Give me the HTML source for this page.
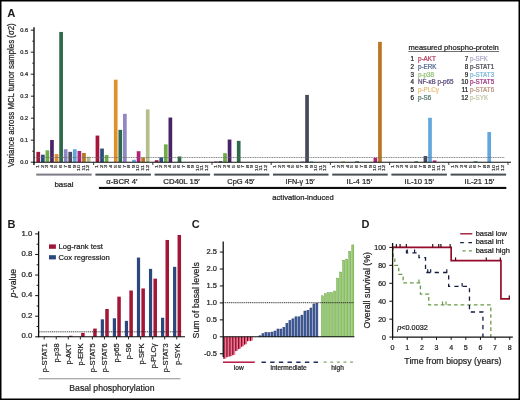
<!DOCTYPE html><html><head><meta charset="utf-8"><style>html,body{margin:0;padding:0;background:#fff;}svg{display:block}text{font-family:"Liberation Sans", sans-serif;}</style></head><body>
<svg width="520" height="400" viewBox="0 0 520 400">
<rect x="0" y="0" width="520" height="400" fill="#fff"/>
<defs><filter id="bl" x="-2%" y="-2%" width="104%" height="104%"><feGaussianBlur stdDeviation="0.4"/></filter></defs><g filter="url(#bl)">
<text transform="translate(14.40,95.30) rotate(-90)" font-size="8.2" text-anchor="middle" textLength="144" lengthAdjust="spacingAndGlyphs" fill="#1e1e1e" stroke="#1e1e1e" stroke-width="0.22">Variance across MCL tumor samples (σ2)</text>
<text x="7.30" y="16.90" font-size="11.3" text-anchor="start" fill="#1e1e1e" font-weight="bold" fill="#111">A</text>
<line x1="30.8" y1="162.20" x2="34.0" y2="162.20" stroke="#111" stroke-width="0.9"/>
<text x="28.00" y="164.10" font-size="5.6" text-anchor="end" fill="#222" stroke="#222" stroke-width="0.22">0.0</text>
<line x1="30.8" y1="140.20" x2="34.0" y2="140.20" stroke="#111" stroke-width="0.9"/>
<text x="28.00" y="142.10" font-size="5.6" text-anchor="end" fill="#222" stroke="#222" stroke-width="0.22">0.1</text>
<line x1="30.8" y1="118.20" x2="34.0" y2="118.20" stroke="#111" stroke-width="0.9"/>
<text x="28.00" y="120.10" font-size="5.6" text-anchor="end" fill="#222" stroke="#222" stroke-width="0.22">0.2</text>
<line x1="30.8" y1="96.20" x2="34.0" y2="96.20" stroke="#111" stroke-width="0.9"/>
<text x="28.00" y="98.10" font-size="5.6" text-anchor="end" fill="#222" stroke="#222" stroke-width="0.22">0.3</text>
<line x1="30.8" y1="74.20" x2="34.0" y2="74.20" stroke="#111" stroke-width="0.9"/>
<text x="28.00" y="76.10" font-size="5.6" text-anchor="end" fill="#222" stroke="#222" stroke-width="0.22">0.4</text>
<line x1="30.8" y1="52.20" x2="34.0" y2="52.20" stroke="#111" stroke-width="0.9"/>
<text x="28.00" y="54.10" font-size="5.6" text-anchor="end" fill="#222" stroke="#222" stroke-width="0.22">0.5</text>
<line x1="30.8" y1="30.20" x2="34.0" y2="30.20" stroke="#111" stroke-width="0.9"/>
<text x="28.00" y="32.10" font-size="5.6" text-anchor="end" fill="#222" stroke="#222" stroke-width="0.22">0.6</text>
<line x1="32.2" y1="151.20" x2="34.0" y2="151.20" stroke="#111" stroke-width="0.8"/>
<line x1="32.2" y1="129.20" x2="34.0" y2="129.20" stroke="#111" stroke-width="0.8"/>
<line x1="32.2" y1="107.20" x2="34.0" y2="107.20" stroke="#111" stroke-width="0.8"/>
<line x1="32.2" y1="85.20" x2="34.0" y2="85.20" stroke="#111" stroke-width="0.8"/>
<line x1="32.2" y1="63.20" x2="34.0" y2="63.20" stroke="#111" stroke-width="0.8"/>
<line x1="32.2" y1="41.20" x2="34.0" y2="41.20" stroke="#111" stroke-width="0.8"/>
<rect x="36.40" y="151.86" width="3.7" height="10.34" fill="#a5153d"/>
<rect x="40.97" y="154.72" width="3.7" height="7.48" fill="#2c4d80"/>
<rect x="45.54" y="150.32" width="3.7" height="11.88" fill="#6fae45"/>
<rect x="50.11" y="139.98" width="3.7" height="22.22" fill="#4a2468"/>
<rect x="54.68" y="154.06" width="3.7" height="8.14" fill="#e0902c"/>
<rect x="59.25" y="31.96" width="3.7" height="130.24" fill="#2e6a4a"/>
<rect x="63.82" y="149.22" width="3.7" height="12.98" fill="#9088c4"/>
<rect x="68.39" y="151.86" width="3.7" height="10.34" fill="#454b5a"/>
<rect x="72.96" y="149.22" width="3.7" height="12.98" fill="#62a6dc"/>
<rect x="77.53" y="150.98" width="3.7" height="11.22" fill="#b0207a"/>
<rect x="82.10" y="152.96" width="3.7" height="9.24" fill="#bc7424"/>
<rect x="86.67" y="156.70" width="3.7" height="5.50" fill="#b4be8e"/>
<rect x="95.60" y="135.58" width="3.7" height="26.62" fill="#a5153d"/>
<rect x="100.17" y="148.56" width="3.7" height="13.64" fill="#2c4d80"/>
<rect x="104.74" y="154.94" width="3.7" height="7.26" fill="#6fae45"/>
<rect x="113.88" y="79.70" width="3.7" height="82.50" fill="#e0902c"/>
<rect x="118.45" y="129.86" width="3.7" height="32.34" fill="#2e6a4a"/>
<rect x="123.02" y="113.80" width="3.7" height="48.40" fill="#9088c4"/>
<rect x="132.16" y="159.78" width="3.7" height="2.42" fill="#62a6dc"/>
<rect x="136.73" y="151.20" width="3.7" height="11.00" fill="#b0207a"/>
<rect x="141.30" y="157.58" width="3.7" height="4.62" fill="#bc7424"/>
<rect x="145.87" y="109.40" width="3.7" height="52.80" fill="#b4be8e"/>
<rect x="154.80" y="160.22" width="3.7" height="1.98" fill="#a5153d"/>
<rect x="159.37" y="157.36" width="3.7" height="4.84" fill="#2c4d80"/>
<rect x="163.94" y="144.38" width="3.7" height="17.82" fill="#6fae45"/>
<rect x="168.51" y="117.54" width="3.7" height="44.66" fill="#4a2468"/>
<rect x="177.65" y="156.48" width="3.7" height="5.72" fill="#2e6a4a"/>
<rect x="214.00" y="161.54" width="3.7" height="0.66" fill="#a5153d"/>
<rect x="218.57" y="161.10" width="3.7" height="1.10" fill="#2c4d80"/>
<rect x="223.14" y="153.18" width="3.7" height="9.02" fill="#6fae45"/>
<rect x="227.71" y="139.54" width="3.7" height="22.66" fill="#4a2468"/>
<rect x="236.85" y="140.86" width="3.7" height="21.34" fill="#2e6a4a"/>
<rect x="300.62" y="161.32" width="3.7" height="0.88" fill="#9088c4"/>
<rect x="305.19" y="94.88" width="3.7" height="67.32" fill="#454b5a"/>
<rect x="309.76" y="161.32" width="3.7" height="0.88" fill="#62a6dc"/>
<rect x="341.54" y="161.54" width="3.7" height="0.66" fill="#6fae45"/>
<rect x="355.25" y="161.32" width="3.7" height="0.88" fill="#2e6a4a"/>
<rect x="373.53" y="157.80" width="3.7" height="4.40" fill="#b0207a"/>
<rect x="378.10" y="41.86" width="3.7" height="120.34" fill="#bc7424"/>
<rect x="414.45" y="161.32" width="3.7" height="0.88" fill="#2e6a4a"/>
<rect x="423.59" y="156.04" width="3.7" height="6.16" fill="#454b5a"/>
<rect x="428.16" y="117.76" width="3.7" height="44.44" fill="#62a6dc"/>
<rect x="432.73" y="160.44" width="3.7" height="1.76" fill="#b0207a"/>
<rect x="473.65" y="161.32" width="3.7" height="0.88" fill="#2e6a4a"/>
<rect x="487.36" y="132.06" width="3.7" height="30.14" fill="#62a6dc"/>
<line x1="34.0" y1="157.5" x2="504.5" y2="157.5" stroke="#6a6a6a" stroke-width="0.8" stroke-dasharray="1.1,0.6"/>
<line x1="34.0" y1="27.2" x2="34.0" y2="165" stroke="#111" stroke-width="1.4"/>
<line x1="33.3" y1="162.2" x2="511" y2="162.2" stroke="#111" stroke-width="1.1"/>
<line x1="93.60" y1="162.2" x2="93.60" y2="165" stroke="#111" stroke-width="0.8"/>
<line x1="152.80" y1="162.2" x2="152.80" y2="165" stroke="#111" stroke-width="0.8"/>
<line x1="212.00" y1="162.2" x2="212.00" y2="165" stroke="#111" stroke-width="0.8"/>
<line x1="271.20" y1="162.2" x2="271.20" y2="165" stroke="#111" stroke-width="0.8"/>
<line x1="330.40" y1="162.2" x2="330.40" y2="165" stroke="#111" stroke-width="0.8"/>
<line x1="389.60" y1="162.2" x2="389.60" y2="165" stroke="#111" stroke-width="0.8"/>
<line x1="448.80" y1="162.2" x2="448.80" y2="165" stroke="#111" stroke-width="0.8"/>
<line x1="508.00" y1="162.2" x2="508.00" y2="165" stroke="#111" stroke-width="0.8"/>
<text transform="translate(39.15,165.0) rotate(-90) scale(1,0.62)" font-size="5.6" text-anchor="end" fill="#3a3a3a" stroke="#3a3a3a" stroke-width="0.3">1</text>
<text transform="translate(43.72,165.0) rotate(-90) scale(1,0.62)" font-size="5.6" text-anchor="end" fill="#3a3a3a" stroke="#3a3a3a" stroke-width="0.3">2</text>
<text transform="translate(48.29,165.0) rotate(-90) scale(1,0.62)" font-size="5.6" text-anchor="end" fill="#3a3a3a" stroke="#3a3a3a" stroke-width="0.3">3</text>
<text transform="translate(52.86,165.0) rotate(-90) scale(1,0.62)" font-size="5.6" text-anchor="end" fill="#3a3a3a" stroke="#3a3a3a" stroke-width="0.3">4</text>
<text transform="translate(57.43,165.0) rotate(-90) scale(1,0.62)" font-size="5.6" text-anchor="end" fill="#3a3a3a" stroke="#3a3a3a" stroke-width="0.3">5</text>
<text transform="translate(62.00,165.0) rotate(-90) scale(1,0.62)" font-size="5.6" text-anchor="end" fill="#3a3a3a" stroke="#3a3a3a" stroke-width="0.3">6</text>
<text transform="translate(66.57,165.0) rotate(-90) scale(1,0.62)" font-size="5.6" text-anchor="end" fill="#3a3a3a" stroke="#3a3a3a" stroke-width="0.3">7</text>
<text transform="translate(71.14,165.0) rotate(-90) scale(1,0.62)" font-size="5.6" text-anchor="end" fill="#3a3a3a" stroke="#3a3a3a" stroke-width="0.3">8</text>
<text transform="translate(75.71,165.0) rotate(-90) scale(1,0.62)" font-size="5.6" text-anchor="end" fill="#3a3a3a" stroke="#3a3a3a" stroke-width="0.3">9</text>
<text transform="translate(80.28,165.0) rotate(-90) scale(1,0.62)" font-size="5.6" text-anchor="end" fill="#3a3a3a" stroke="#3a3a3a" stroke-width="0.3">10</text>
<text transform="translate(84.85,165.0) rotate(-90) scale(1,0.62)" font-size="5.6" text-anchor="end" fill="#3a3a3a" stroke="#3a3a3a" stroke-width="0.3">11</text>
<text transform="translate(89.42,165.0) rotate(-90) scale(1,0.62)" font-size="5.6" text-anchor="end" fill="#3a3a3a" stroke="#3a3a3a" stroke-width="0.3">12</text>
<text transform="translate(98.35,165.0) rotate(-90) scale(1,0.62)" font-size="5.6" text-anchor="end" fill="#3a3a3a" stroke="#3a3a3a" stroke-width="0.3">1</text>
<text transform="translate(102.92,165.0) rotate(-90) scale(1,0.62)" font-size="5.6" text-anchor="end" fill="#3a3a3a" stroke="#3a3a3a" stroke-width="0.3">2</text>
<text transform="translate(107.49,165.0) rotate(-90) scale(1,0.62)" font-size="5.6" text-anchor="end" fill="#3a3a3a" stroke="#3a3a3a" stroke-width="0.3">3</text>
<text transform="translate(112.06,165.0) rotate(-90) scale(1,0.62)" font-size="5.6" text-anchor="end" fill="#3a3a3a" stroke="#3a3a3a" stroke-width="0.3">4</text>
<text transform="translate(116.63,165.0) rotate(-90) scale(1,0.62)" font-size="5.6" text-anchor="end" fill="#3a3a3a" stroke="#3a3a3a" stroke-width="0.3">5</text>
<text transform="translate(121.20,165.0) rotate(-90) scale(1,0.62)" font-size="5.6" text-anchor="end" fill="#3a3a3a" stroke="#3a3a3a" stroke-width="0.3">6</text>
<text transform="translate(125.77,165.0) rotate(-90) scale(1,0.62)" font-size="5.6" text-anchor="end" fill="#3a3a3a" stroke="#3a3a3a" stroke-width="0.3">7</text>
<text transform="translate(130.34,165.0) rotate(-90) scale(1,0.62)" font-size="5.6" text-anchor="end" fill="#3a3a3a" stroke="#3a3a3a" stroke-width="0.3">8</text>
<text transform="translate(134.91,165.0) rotate(-90) scale(1,0.62)" font-size="5.6" text-anchor="end" fill="#3a3a3a" stroke="#3a3a3a" stroke-width="0.3">9</text>
<text transform="translate(139.48,165.0) rotate(-90) scale(1,0.62)" font-size="5.6" text-anchor="end" fill="#3a3a3a" stroke="#3a3a3a" stroke-width="0.3">10</text>
<text transform="translate(144.05,165.0) rotate(-90) scale(1,0.62)" font-size="5.6" text-anchor="end" fill="#3a3a3a" stroke="#3a3a3a" stroke-width="0.3">11</text>
<text transform="translate(148.62,165.0) rotate(-90) scale(1,0.62)" font-size="5.6" text-anchor="end" fill="#3a3a3a" stroke="#3a3a3a" stroke-width="0.3">12</text>
<text transform="translate(157.55,165.0) rotate(-90) scale(1,0.62)" font-size="5.6" text-anchor="end" fill="#3a3a3a" stroke="#3a3a3a" stroke-width="0.3">1</text>
<text transform="translate(162.12,165.0) rotate(-90) scale(1,0.62)" font-size="5.6" text-anchor="end" fill="#3a3a3a" stroke="#3a3a3a" stroke-width="0.3">2</text>
<text transform="translate(166.69,165.0) rotate(-90) scale(1,0.62)" font-size="5.6" text-anchor="end" fill="#3a3a3a" stroke="#3a3a3a" stroke-width="0.3">3</text>
<text transform="translate(171.26,165.0) rotate(-90) scale(1,0.62)" font-size="5.6" text-anchor="end" fill="#3a3a3a" stroke="#3a3a3a" stroke-width="0.3">4</text>
<text transform="translate(175.83,165.0) rotate(-90) scale(1,0.62)" font-size="5.6" text-anchor="end" fill="#3a3a3a" stroke="#3a3a3a" stroke-width="0.3">5</text>
<text transform="translate(180.40,165.0) rotate(-90) scale(1,0.62)" font-size="5.6" text-anchor="end" fill="#3a3a3a" stroke="#3a3a3a" stroke-width="0.3">6</text>
<text transform="translate(184.97,165.0) rotate(-90) scale(1,0.62)" font-size="5.6" text-anchor="end" fill="#3a3a3a" stroke="#3a3a3a" stroke-width="0.3">7</text>
<text transform="translate(189.54,165.0) rotate(-90) scale(1,0.62)" font-size="5.6" text-anchor="end" fill="#3a3a3a" stroke="#3a3a3a" stroke-width="0.3">8</text>
<text transform="translate(194.11,165.0) rotate(-90) scale(1,0.62)" font-size="5.6" text-anchor="end" fill="#3a3a3a" stroke="#3a3a3a" stroke-width="0.3">9</text>
<text transform="translate(198.68,165.0) rotate(-90) scale(1,0.62)" font-size="5.6" text-anchor="end" fill="#3a3a3a" stroke="#3a3a3a" stroke-width="0.3">10</text>
<text transform="translate(203.25,165.0) rotate(-90) scale(1,0.62)" font-size="5.6" text-anchor="end" fill="#3a3a3a" stroke="#3a3a3a" stroke-width="0.3">11</text>
<text transform="translate(207.82,165.0) rotate(-90) scale(1,0.62)" font-size="5.6" text-anchor="end" fill="#3a3a3a" stroke="#3a3a3a" stroke-width="0.3">12</text>
<text transform="translate(216.75,165.0) rotate(-90) scale(1,0.62)" font-size="5.6" text-anchor="end" fill="#3a3a3a" stroke="#3a3a3a" stroke-width="0.3">1</text>
<text transform="translate(221.32,165.0) rotate(-90) scale(1,0.62)" font-size="5.6" text-anchor="end" fill="#3a3a3a" stroke="#3a3a3a" stroke-width="0.3">2</text>
<text transform="translate(225.89,165.0) rotate(-90) scale(1,0.62)" font-size="5.6" text-anchor="end" fill="#3a3a3a" stroke="#3a3a3a" stroke-width="0.3">3</text>
<text transform="translate(230.46,165.0) rotate(-90) scale(1,0.62)" font-size="5.6" text-anchor="end" fill="#3a3a3a" stroke="#3a3a3a" stroke-width="0.3">4</text>
<text transform="translate(235.03,165.0) rotate(-90) scale(1,0.62)" font-size="5.6" text-anchor="end" fill="#3a3a3a" stroke="#3a3a3a" stroke-width="0.3">5</text>
<text transform="translate(239.60,165.0) rotate(-90) scale(1,0.62)" font-size="5.6" text-anchor="end" fill="#3a3a3a" stroke="#3a3a3a" stroke-width="0.3">6</text>
<text transform="translate(244.17,165.0) rotate(-90) scale(1,0.62)" font-size="5.6" text-anchor="end" fill="#3a3a3a" stroke="#3a3a3a" stroke-width="0.3">7</text>
<text transform="translate(248.74,165.0) rotate(-90) scale(1,0.62)" font-size="5.6" text-anchor="end" fill="#3a3a3a" stroke="#3a3a3a" stroke-width="0.3">8</text>
<text transform="translate(253.31,165.0) rotate(-90) scale(1,0.62)" font-size="5.6" text-anchor="end" fill="#3a3a3a" stroke="#3a3a3a" stroke-width="0.3">9</text>
<text transform="translate(257.88,165.0) rotate(-90) scale(1,0.62)" font-size="5.6" text-anchor="end" fill="#3a3a3a" stroke="#3a3a3a" stroke-width="0.3">10</text>
<text transform="translate(262.45,165.0) rotate(-90) scale(1,0.62)" font-size="5.6" text-anchor="end" fill="#3a3a3a" stroke="#3a3a3a" stroke-width="0.3">11</text>
<text transform="translate(267.02,165.0) rotate(-90) scale(1,0.62)" font-size="5.6" text-anchor="end" fill="#3a3a3a" stroke="#3a3a3a" stroke-width="0.3">12</text>
<text transform="translate(275.95,165.0) rotate(-90) scale(1,0.62)" font-size="5.6" text-anchor="end" fill="#3a3a3a" stroke="#3a3a3a" stroke-width="0.3">1</text>
<text transform="translate(280.52,165.0) rotate(-90) scale(1,0.62)" font-size="5.6" text-anchor="end" fill="#3a3a3a" stroke="#3a3a3a" stroke-width="0.3">2</text>
<text transform="translate(285.09,165.0) rotate(-90) scale(1,0.62)" font-size="5.6" text-anchor="end" fill="#3a3a3a" stroke="#3a3a3a" stroke-width="0.3">3</text>
<text transform="translate(289.66,165.0) rotate(-90) scale(1,0.62)" font-size="5.6" text-anchor="end" fill="#3a3a3a" stroke="#3a3a3a" stroke-width="0.3">4</text>
<text transform="translate(294.23,165.0) rotate(-90) scale(1,0.62)" font-size="5.6" text-anchor="end" fill="#3a3a3a" stroke="#3a3a3a" stroke-width="0.3">5</text>
<text transform="translate(298.80,165.0) rotate(-90) scale(1,0.62)" font-size="5.6" text-anchor="end" fill="#3a3a3a" stroke="#3a3a3a" stroke-width="0.3">6</text>
<text transform="translate(303.37,165.0) rotate(-90) scale(1,0.62)" font-size="5.6" text-anchor="end" fill="#3a3a3a" stroke="#3a3a3a" stroke-width="0.3">7</text>
<text transform="translate(307.94,165.0) rotate(-90) scale(1,0.62)" font-size="5.6" text-anchor="end" fill="#3a3a3a" stroke="#3a3a3a" stroke-width="0.3">8</text>
<text transform="translate(312.51,165.0) rotate(-90) scale(1,0.62)" font-size="5.6" text-anchor="end" fill="#3a3a3a" stroke="#3a3a3a" stroke-width="0.3">9</text>
<text transform="translate(317.08,165.0) rotate(-90) scale(1,0.62)" font-size="5.6" text-anchor="end" fill="#3a3a3a" stroke="#3a3a3a" stroke-width="0.3">10</text>
<text transform="translate(321.65,165.0) rotate(-90) scale(1,0.62)" font-size="5.6" text-anchor="end" fill="#3a3a3a" stroke="#3a3a3a" stroke-width="0.3">11</text>
<text transform="translate(326.22,165.0) rotate(-90) scale(1,0.62)" font-size="5.6" text-anchor="end" fill="#3a3a3a" stroke="#3a3a3a" stroke-width="0.3">12</text>
<text transform="translate(335.15,165.0) rotate(-90) scale(1,0.62)" font-size="5.6" text-anchor="end" fill="#3a3a3a" stroke="#3a3a3a" stroke-width="0.3">1</text>
<text transform="translate(339.72,165.0) rotate(-90) scale(1,0.62)" font-size="5.6" text-anchor="end" fill="#3a3a3a" stroke="#3a3a3a" stroke-width="0.3">2</text>
<text transform="translate(344.29,165.0) rotate(-90) scale(1,0.62)" font-size="5.6" text-anchor="end" fill="#3a3a3a" stroke="#3a3a3a" stroke-width="0.3">3</text>
<text transform="translate(348.86,165.0) rotate(-90) scale(1,0.62)" font-size="5.6" text-anchor="end" fill="#3a3a3a" stroke="#3a3a3a" stroke-width="0.3">4</text>
<text transform="translate(353.43,165.0) rotate(-90) scale(1,0.62)" font-size="5.6" text-anchor="end" fill="#3a3a3a" stroke="#3a3a3a" stroke-width="0.3">5</text>
<text transform="translate(358.00,165.0) rotate(-90) scale(1,0.62)" font-size="5.6" text-anchor="end" fill="#3a3a3a" stroke="#3a3a3a" stroke-width="0.3">6</text>
<text transform="translate(362.57,165.0) rotate(-90) scale(1,0.62)" font-size="5.6" text-anchor="end" fill="#3a3a3a" stroke="#3a3a3a" stroke-width="0.3">7</text>
<text transform="translate(367.14,165.0) rotate(-90) scale(1,0.62)" font-size="5.6" text-anchor="end" fill="#3a3a3a" stroke="#3a3a3a" stroke-width="0.3">8</text>
<text transform="translate(371.71,165.0) rotate(-90) scale(1,0.62)" font-size="5.6" text-anchor="end" fill="#3a3a3a" stroke="#3a3a3a" stroke-width="0.3">9</text>
<text transform="translate(376.28,165.0) rotate(-90) scale(1,0.62)" font-size="5.6" text-anchor="end" fill="#3a3a3a" stroke="#3a3a3a" stroke-width="0.3">10</text>
<text transform="translate(380.85,165.0) rotate(-90) scale(1,0.62)" font-size="5.6" text-anchor="end" fill="#3a3a3a" stroke="#3a3a3a" stroke-width="0.3">11</text>
<text transform="translate(385.42,165.0) rotate(-90) scale(1,0.62)" font-size="5.6" text-anchor="end" fill="#3a3a3a" stroke="#3a3a3a" stroke-width="0.3">12</text>
<text transform="translate(394.35,165.0) rotate(-90) scale(1,0.62)" font-size="5.6" text-anchor="end" fill="#3a3a3a" stroke="#3a3a3a" stroke-width="0.3">1</text>
<text transform="translate(398.92,165.0) rotate(-90) scale(1,0.62)" font-size="5.6" text-anchor="end" fill="#3a3a3a" stroke="#3a3a3a" stroke-width="0.3">2</text>
<text transform="translate(403.49,165.0) rotate(-90) scale(1,0.62)" font-size="5.6" text-anchor="end" fill="#3a3a3a" stroke="#3a3a3a" stroke-width="0.3">3</text>
<text transform="translate(408.06,165.0) rotate(-90) scale(1,0.62)" font-size="5.6" text-anchor="end" fill="#3a3a3a" stroke="#3a3a3a" stroke-width="0.3">4</text>
<text transform="translate(412.63,165.0) rotate(-90) scale(1,0.62)" font-size="5.6" text-anchor="end" fill="#3a3a3a" stroke="#3a3a3a" stroke-width="0.3">5</text>
<text transform="translate(417.20,165.0) rotate(-90) scale(1,0.62)" font-size="5.6" text-anchor="end" fill="#3a3a3a" stroke="#3a3a3a" stroke-width="0.3">6</text>
<text transform="translate(421.77,165.0) rotate(-90) scale(1,0.62)" font-size="5.6" text-anchor="end" fill="#3a3a3a" stroke="#3a3a3a" stroke-width="0.3">7</text>
<text transform="translate(426.34,165.0) rotate(-90) scale(1,0.62)" font-size="5.6" text-anchor="end" fill="#3a3a3a" stroke="#3a3a3a" stroke-width="0.3">8</text>
<text transform="translate(430.91,165.0) rotate(-90) scale(1,0.62)" font-size="5.6" text-anchor="end" fill="#3a3a3a" stroke="#3a3a3a" stroke-width="0.3">9</text>
<text transform="translate(435.48,165.0) rotate(-90) scale(1,0.62)" font-size="5.6" text-anchor="end" fill="#3a3a3a" stroke="#3a3a3a" stroke-width="0.3">10</text>
<text transform="translate(440.05,165.0) rotate(-90) scale(1,0.62)" font-size="5.6" text-anchor="end" fill="#3a3a3a" stroke="#3a3a3a" stroke-width="0.3">11</text>
<text transform="translate(444.62,165.0) rotate(-90) scale(1,0.62)" font-size="5.6" text-anchor="end" fill="#3a3a3a" stroke="#3a3a3a" stroke-width="0.3">12</text>
<text transform="translate(453.55,165.0) rotate(-90) scale(1,0.62)" font-size="5.6" text-anchor="end" fill="#3a3a3a" stroke="#3a3a3a" stroke-width="0.3">1</text>
<text transform="translate(458.12,165.0) rotate(-90) scale(1,0.62)" font-size="5.6" text-anchor="end" fill="#3a3a3a" stroke="#3a3a3a" stroke-width="0.3">2</text>
<text transform="translate(462.69,165.0) rotate(-90) scale(1,0.62)" font-size="5.6" text-anchor="end" fill="#3a3a3a" stroke="#3a3a3a" stroke-width="0.3">3</text>
<text transform="translate(467.26,165.0) rotate(-90) scale(1,0.62)" font-size="5.6" text-anchor="end" fill="#3a3a3a" stroke="#3a3a3a" stroke-width="0.3">4</text>
<text transform="translate(471.83,165.0) rotate(-90) scale(1,0.62)" font-size="5.6" text-anchor="end" fill="#3a3a3a" stroke="#3a3a3a" stroke-width="0.3">5</text>
<text transform="translate(476.40,165.0) rotate(-90) scale(1,0.62)" font-size="5.6" text-anchor="end" fill="#3a3a3a" stroke="#3a3a3a" stroke-width="0.3">6</text>
<text transform="translate(480.97,165.0) rotate(-90) scale(1,0.62)" font-size="5.6" text-anchor="end" fill="#3a3a3a" stroke="#3a3a3a" stroke-width="0.3">7</text>
<text transform="translate(485.54,165.0) rotate(-90) scale(1,0.62)" font-size="5.6" text-anchor="end" fill="#3a3a3a" stroke="#3a3a3a" stroke-width="0.3">8</text>
<text transform="translate(490.11,165.0) rotate(-90) scale(1,0.62)" font-size="5.6" text-anchor="end" fill="#3a3a3a" stroke="#3a3a3a" stroke-width="0.3">9</text>
<text transform="translate(494.68,165.0) rotate(-90) scale(1,0.62)" font-size="5.6" text-anchor="end" fill="#3a3a3a" stroke="#3a3a3a" stroke-width="0.3">10</text>
<text transform="translate(499.25,165.0) rotate(-90) scale(1,0.62)" font-size="5.6" text-anchor="end" fill="#3a3a3a" stroke="#3a3a3a" stroke-width="0.3">11</text>
<text transform="translate(503.82,165.0) rotate(-90) scale(1,0.62)" font-size="5.6" text-anchor="end" fill="#3a3a3a" stroke="#3a3a3a" stroke-width="0.3">12</text>
<rect x="36.20" y="173.6" width="55.50" height="2" fill="#7c7c86"/>
<rect x="95.40" y="173.6" width="55.50" height="2" fill="#4a4e56"/>
<rect x="154.60" y="173.6" width="55.50" height="2" fill="#4a4e56"/>
<rect x="213.80" y="173.6" width="55.50" height="2" fill="#4a4e56"/>
<rect x="273.00" y="173.6" width="55.50" height="2" fill="#4a4e56"/>
<rect x="332.20" y="173.6" width="55.50" height="2" fill="#4a4e56"/>
<rect x="391.40" y="173.6" width="55.50" height="2" fill="#4a4e56"/>
<rect x="450.60" y="173.6" width="55.50" height="2" fill="#4a4e56"/>
<text x="63.95" y="186.50" font-size="7.9" text-anchor="middle" textLength="19.1" lengthAdjust="spacingAndGlyphs" fill="#1a1a1a" stroke="#1a1a1a" stroke-width="0.22">basal</text>
<text x="121.85" y="184.20" font-size="7.9" text-anchor="middle" textLength="31.1" lengthAdjust="spacingAndGlyphs" fill="#1a1a1a" stroke="#1a1a1a" stroke-width="0.22">α-BCR 4′</text>
<text x="181.55" y="184.20" font-size="7.9" text-anchor="middle" textLength="36.5" lengthAdjust="spacingAndGlyphs" fill="#1a1a1a" stroke="#1a1a1a" stroke-width="0.22">CD40L 15′</text>
<text x="240.90" y="184.20" font-size="7.9" text-anchor="middle" textLength="27.2" lengthAdjust="spacingAndGlyphs" fill="#1a1a1a" stroke="#1a1a1a" stroke-width="0.22">CpG 45′</text>
<text x="300.05" y="184.20" font-size="7.9" text-anchor="middle" textLength="28.900000000000002" lengthAdjust="spacingAndGlyphs" fill="#1a1a1a" stroke="#1a1a1a" stroke-width="0.22">IFN-γ 15′</text>
<text x="359.30" y="184.20" font-size="7.9" text-anchor="middle" textLength="25.6" lengthAdjust="spacingAndGlyphs" fill="#1a1a1a" stroke="#1a1a1a" stroke-width="0.22">IL-4 15′</text>
<text x="419.30" y="184.20" font-size="7.9" text-anchor="middle" textLength="29.45" lengthAdjust="spacingAndGlyphs" fill="#1a1a1a" stroke="#1a1a1a" stroke-width="0.22">IL-10 15′</text>
<text x="479.40" y="184.20" font-size="7.9" text-anchor="middle" textLength="29.650000000000002" lengthAdjust="spacingAndGlyphs" fill="#1a1a1a" stroke="#1a1a1a" stroke-width="0.22">IL-21 15′</text>
<rect x="98.9" y="186.9" width="407.4" height="2.1" fill="#111"/>
<text x="303.00" y="200.10" font-size="7.7" text-anchor="middle" textLength="61.4" lengthAdjust="spacingAndGlyphs" fill="#1a1a1a" stroke="#1a1a1a" stroke-width="0.22">activation-induced</text>
<text x="408.40" y="50.40" font-size="7.5" text-anchor="start" textLength="90.4" lengthAdjust="spacingAndGlyphs" fill="#222" stroke="#222" stroke-width="0.22">measured phospho-protein</text>
<line x1="408.4" y1="51.5" x2="499" y2="51.5" stroke="#333" stroke-width="0.7"/>
<text x="414.00" y="60.80" font-size="6.3" text-anchor="end" fill="#222" stroke="#222" stroke-width="0.22">1</text>
<text x="417.90" y="60.80" font-size="6.3" text-anchor="start" fill="#b03858" stroke="#b03858" stroke-width="0.22">p-AKT</text>
<text x="414.00" y="68.67" font-size="6.3" text-anchor="end" fill="#222" stroke="#222" stroke-width="0.22">2</text>
<text x="417.90" y="68.67" font-size="6.3" text-anchor="start" fill="#50648c" stroke="#50648c" stroke-width="0.22">p-ERK</text>
<text x="414.00" y="76.54" font-size="6.3" text-anchor="end" fill="#222" stroke="#222" stroke-width="0.22">3</text>
<text x="417.90" y="76.54" font-size="6.3" text-anchor="start" fill="#90c078" stroke="#90c078" stroke-width="0.22">p-p38</text>
<text x="414.00" y="84.41" font-size="6.3" text-anchor="end" fill="#222" stroke="#222" stroke-width="0.22">4</text>
<text x="417.90" y="84.41" font-size="6.3" text-anchor="start" fill="#58487a" stroke="#58487a" stroke-width="0.22">NF-κB p-p65</text>
<text x="414.00" y="92.28" font-size="6.3" text-anchor="end" fill="#222" stroke="#222" stroke-width="0.22">5</text>
<text x="417.90" y="92.28" font-size="6.3" text-anchor="start" fill="#e8c078" stroke="#e8c078" stroke-width="0.22">p-PLCγ</text>
<text x="414.00" y="100.15" font-size="6.3" text-anchor="end" fill="#222" stroke="#222" stroke-width="0.22">6</text>
<text x="417.90" y="100.15" font-size="6.3" text-anchor="start" fill="#4e7468" stroke="#4e7468" stroke-width="0.22">p-S6</text>
<text x="468.30" y="60.80" font-size="6.3" text-anchor="end" fill="#222" stroke="#222" stroke-width="0.22">7</text>
<text x="469.90" y="60.80" font-size="6.3" text-anchor="start" fill="#aaa8c8" stroke="#aaa8c8" stroke-width="0.22">p-SFK</text>
<text x="468.30" y="68.67" font-size="6.3" text-anchor="end" fill="#222" stroke="#222" stroke-width="0.22">8</text>
<text x="469.90" y="68.67" font-size="6.3" text-anchor="start" fill="#44464e" stroke="#44464e" stroke-width="0.22">p-STAT1</text>
<text x="468.30" y="76.54" font-size="6.3" text-anchor="end" fill="#222" stroke="#222" stroke-width="0.22">9</text>
<text x="469.90" y="76.54" font-size="6.3" text-anchor="start" fill="#7ab4d4" stroke="#7ab4d4" stroke-width="0.22">p-STAT3</text>
<text x="468.30" y="84.41" font-size="6.3" text-anchor="end" fill="#222" stroke="#222" stroke-width="0.22">10</text>
<text x="469.90" y="84.41" font-size="6.3" text-anchor="start" fill="#a0307e" stroke="#a0307e" stroke-width="0.22">p-STAT5</text>
<text x="468.30" y="92.28" font-size="6.3" text-anchor="end" fill="#222" stroke="#222" stroke-width="0.22">11</text>
<text x="469.90" y="92.28" font-size="6.3" text-anchor="start" fill="#b89078" stroke="#b89078" stroke-width="0.22">p-STAT6</text>
<text x="468.30" y="100.15" font-size="6.3" text-anchor="end" fill="#222" stroke="#222" stroke-width="0.22">12</text>
<text x="469.90" y="100.15" font-size="6.3" text-anchor="start" fill="#c0c8a8" stroke="#c0c8a8" stroke-width="0.22">p-SYK</text>
<text x="7.60" y="227.60" font-size="11" text-anchor="start" fill="#1e1e1e" font-weight="bold" fill="#111">B</text>
<line x1="35.2" y1="336.80" x2="38.6" y2="336.80" stroke="#111" stroke-width="1"/>
<text x="32.30" y="338.40" font-size="7.8" text-anchor="end" fill="#222" stroke="#222" stroke-width="0.22">0.0</text>
<line x1="35.2" y1="316.22" x2="38.6" y2="316.22" stroke="#111" stroke-width="1"/>
<text x="32.30" y="317.82" font-size="7.8" text-anchor="end" fill="#222" stroke="#222" stroke-width="0.22">0.2</text>
<line x1="35.2" y1="295.64" x2="38.6" y2="295.64" stroke="#111" stroke-width="1"/>
<text x="32.30" y="297.24" font-size="7.8" text-anchor="end" fill="#222" stroke="#222" stroke-width="0.22">0.4</text>
<line x1="35.2" y1="275.06" x2="38.6" y2="275.06" stroke="#111" stroke-width="1"/>
<text x="32.30" y="276.66" font-size="7.8" text-anchor="end" fill="#222" stroke="#222" stroke-width="0.22">0.6</text>
<line x1="35.2" y1="254.48" x2="38.6" y2="254.48" stroke="#111" stroke-width="1"/>
<text x="32.30" y="256.08" font-size="7.8" text-anchor="end" fill="#222" stroke="#222" stroke-width="0.22">0.8</text>
<line x1="35.2" y1="233.90" x2="38.6" y2="233.90" stroke="#111" stroke-width="1"/>
<text x="32.30" y="235.50" font-size="7.8" text-anchor="end" fill="#222" stroke="#222" stroke-width="0.22">1.0</text>
<line x1="36.6" y1="326.51" x2="38.6" y2="326.51" stroke="#111" stroke-width="0.9"/>
<line x1="36.6" y1="305.93" x2="38.6" y2="305.93" stroke="#111" stroke-width="0.9"/>
<line x1="36.6" y1="285.35" x2="38.6" y2="285.35" stroke="#111" stroke-width="0.9"/>
<line x1="36.6" y1="264.77" x2="38.6" y2="264.77" stroke="#111" stroke-width="0.9"/>
<line x1="36.6" y1="244.19" x2="38.6" y2="244.19" stroke="#111" stroke-width="0.9"/>
<text transform="translate(16.00,283.20) rotate(-90)" font-size="8.7" text-anchor="middle" fill="#222" stroke="#222" stroke-width="0.22"><tspan font-style="italic">p</tspan>-value</text>
<rect x="45.00" y="336.59" width="3.5" height="0.21" fill="#a41236"/>
<line x1="44.20" y1="336.8" x2="44.20" y2="339.40000000000003" stroke="#111" stroke-width="0.9"/>
<text transform="translate(47.10,343.40) rotate(-90) scale(1,0.84)" font-size="7.5" text-anchor="end" fill="#222" stroke="#222" stroke-width="0.22">p-STAT1</text>
<rect x="57.05" y="336.29" width="3.5" height="0.51" fill="#a41236"/>
<line x1="56.25" y1="336.8" x2="56.25" y2="339.40000000000003" stroke="#111" stroke-width="0.9"/>
<text transform="translate(59.15,343.40) rotate(-90) scale(1,0.84)" font-size="7.5" text-anchor="end" fill="#222" stroke="#222" stroke-width="0.22">p-p38</text>
<rect x="69.10" y="335.77" width="3.5" height="1.03" fill="#a41236"/>
<line x1="68.30" y1="336.8" x2="68.30" y2="339.40000000000003" stroke="#111" stroke-width="0.9"/>
<text transform="translate(71.20,343.40) rotate(-90) scale(1,0.84)" font-size="7.5" text-anchor="end" fill="#222" stroke="#222" stroke-width="0.22">p-AKT</text>
<rect x="81.15" y="332.89" width="3.5" height="3.91" fill="#a41236"/>
<line x1="80.35" y1="336.8" x2="80.35" y2="339.40000000000003" stroke="#111" stroke-width="0.9"/>
<text transform="translate(83.25,343.40) rotate(-90) scale(1,0.84)" font-size="7.5" text-anchor="end" fill="#222" stroke="#222" stroke-width="0.22">p-ERK</text>
<rect x="93.20" y="328.57" width="3.5" height="8.23" fill="#a41236"/>
<line x1="92.40" y1="336.8" x2="92.40" y2="339.40000000000003" stroke="#111" stroke-width="0.9"/>
<text transform="translate(95.30,343.40) rotate(-90) scale(1,0.84)" font-size="7.5" text-anchor="end" fill="#222" stroke="#222" stroke-width="0.22">p-STAT5</text>
<rect x="100.75" y="319.31" width="3.2" height="17.49" fill="#2c4680"/>
<rect x="105.25" y="309.02" width="3.5" height="27.78" fill="#a41236"/>
<line x1="104.45" y1="336.8" x2="104.45" y2="339.40000000000003" stroke="#111" stroke-width="0.9"/>
<text transform="translate(107.35,343.40) rotate(-90) scale(1,0.84)" font-size="7.5" text-anchor="end" fill="#222" stroke="#222" stroke-width="0.22">p-STAT6</text>
<rect x="112.80" y="318.28" width="3.2" height="18.52" fill="#2c4680"/>
<rect x="117.30" y="296.67" width="3.5" height="40.13" fill="#a41236"/>
<line x1="116.50" y1="336.8" x2="116.50" y2="339.40000000000003" stroke="#111" stroke-width="0.9"/>
<text transform="translate(119.40,343.40) rotate(-90) scale(1,0.84)" font-size="7.5" text-anchor="end" fill="#222" stroke="#222" stroke-width="0.22">p-p65</text>
<rect x="124.85" y="320.85" width="3.2" height="15.95" fill="#2c4680"/>
<rect x="129.35" y="290.50" width="3.5" height="46.31" fill="#a41236"/>
<line x1="128.55" y1="336.8" x2="128.55" y2="339.40000000000003" stroke="#111" stroke-width="0.9"/>
<text transform="translate(131.45,343.40) rotate(-90) scale(1,0.84)" font-size="7.5" text-anchor="end" fill="#222" stroke="#222" stroke-width="0.22">p-S6</text>
<rect x="136.90" y="257.57" width="3.2" height="79.23" fill="#2c4680"/>
<rect x="141.40" y="288.44" width="3.5" height="48.36" fill="#a41236"/>
<line x1="140.60" y1="336.8" x2="140.60" y2="339.40000000000003" stroke="#111" stroke-width="0.9"/>
<text transform="translate(143.50,343.40) rotate(-90) scale(1,0.84)" font-size="7.5" text-anchor="end" fill="#222" stroke="#222" stroke-width="0.22">p-SFK</text>
<rect x="148.95" y="268.89" width="3.2" height="67.91" fill="#2c4680"/>
<rect x="153.45" y="278.66" width="3.5" height="58.14" fill="#a41236"/>
<line x1="152.65" y1="336.8" x2="152.65" y2="339.40000000000003" stroke="#111" stroke-width="0.9"/>
<text transform="translate(155.55,343.40) rotate(-90) scale(1,0.84)" font-size="7.5" text-anchor="end" fill="#222" stroke="#222" stroke-width="0.22">p-PLCγ</text>
<rect x="161.00" y="317.76" width="3.2" height="19.04" fill="#2c4680"/>
<rect x="165.50" y="239.97" width="3.5" height="96.83" fill="#a41236"/>
<line x1="164.70" y1="336.8" x2="164.70" y2="339.40000000000003" stroke="#111" stroke-width="0.9"/>
<text transform="translate(167.60,343.40) rotate(-90) scale(1,0.84)" font-size="7.5" text-anchor="end" fill="#222" stroke="#222" stroke-width="0.22">p-STAT3</text>
<rect x="173.05" y="266.83" width="3.2" height="69.97" fill="#2c4680"/>
<rect x="177.55" y="235.03" width="3.5" height="101.77" fill="#a41236"/>
<line x1="176.75" y1="336.8" x2="176.75" y2="339.40000000000003" stroke="#111" stroke-width="0.9"/>
<text transform="translate(179.65,343.40) rotate(-90) scale(1,0.84)" font-size="7.5" text-anchor="end" fill="#222" stroke="#222" stroke-width="0.22">p-SYK</text>
<line x1="38.6" y1="331.8" x2="181.5" y2="331.8" stroke="#333" stroke-width="0.9" stroke-dasharray="1.2,0.7"/>
<line x1="38.6" y1="231.3" x2="38.6" y2="337.3" stroke="#111" stroke-width="1.3"/>
<line x1="38.0" y1="336.8" x2="185" y2="336.8" stroke="#111" stroke-width="1.1"/>
<rect x="49" y="244.4" width="6.9" height="4.4" fill="#a01838"/>
<text x="58.60" y="249.20" font-size="7.6" text-anchor="start" fill="#222" stroke="#222" stroke-width="0.22">Log-rank test</text>
<rect x="49" y="255.2" width="6.9" height="4.2" fill="#2c4680"/>
<text x="58.60" y="259.70" font-size="7.6" text-anchor="start" fill="#222" stroke="#222" stroke-width="0.22">Cox regression</text>
<rect x="38.6" y="378.2" width="141.9" height="1.1" fill="#9a9a9a"/>
<text x="111.90" y="390.50" font-size="9.2" text-anchor="middle" textLength="85.2" lengthAdjust="spacingAndGlyphs" fill="#222" stroke="#222" stroke-width="0.22">Basal phosphorylation</text>
<text x="191.80" y="227.90" font-size="11" text-anchor="start" fill="#1e1e1e" font-weight="bold" fill="#111">C</text>
<line x1="219.8" y1="353.75" x2="223.2" y2="353.75" stroke="#111" stroke-width="1"/>
<text x="217.00" y="355.95" font-size="7.5" text-anchor="end" fill="#222" stroke="#222" stroke-width="0.22">-0.5</text>
<line x1="219.8" y1="336.80" x2="223.2" y2="336.80" stroke="#111" stroke-width="1"/>
<text x="217.00" y="339.00" font-size="7.5" text-anchor="end" fill="#222" stroke="#222" stroke-width="0.22">0</text>
<line x1="219.8" y1="319.85" x2="223.2" y2="319.85" stroke="#111" stroke-width="1"/>
<text x="217.00" y="322.05" font-size="7.5" text-anchor="end" fill="#222" stroke="#222" stroke-width="0.22">0.5</text>
<line x1="219.8" y1="302.90" x2="223.2" y2="302.90" stroke="#111" stroke-width="1"/>
<text x="217.00" y="305.10" font-size="7.5" text-anchor="end" fill="#222" stroke="#222" stroke-width="0.22">1.0</text>
<line x1="219.8" y1="285.95" x2="223.2" y2="285.95" stroke="#111" stroke-width="1"/>
<text x="217.00" y="288.15" font-size="7.5" text-anchor="end" fill="#222" stroke="#222" stroke-width="0.22">1.5</text>
<line x1="219.8" y1="269.00" x2="223.2" y2="269.00" stroke="#111" stroke-width="1"/>
<text x="217.00" y="271.20" font-size="7.5" text-anchor="end" fill="#222" stroke="#222" stroke-width="0.22">2.0</text>
<line x1="219.8" y1="252.05" x2="223.2" y2="252.05" stroke="#111" stroke-width="1"/>
<text x="217.00" y="254.25" font-size="7.5" text-anchor="end" fill="#222" stroke="#222" stroke-width="0.22">2.5</text>
<text transform="translate(199.40,300.30) rotate(-90)" font-size="9.2" text-anchor="middle" textLength="76.2" lengthAdjust="spacingAndGlyphs" fill="#222" stroke="#222" stroke-width="0.22">Sum of basal levels</text>
<rect x="223.40" y="336.80" width="2.95" height="21.70" fill="#f07290"/>
<rect x="223.40" y="336.80" width="1.15" height="22.10" fill="#78001e"/>
<rect x="226.35" y="336.80" width="2.95" height="20.00" fill="#f07290"/>
<rect x="226.35" y="336.80" width="1.15" height="20.40" fill="#78001e"/>
<rect x="229.30" y="336.80" width="2.95" height="19.32" fill="#f07290"/>
<rect x="229.30" y="336.80" width="1.15" height="19.72" fill="#78001e"/>
<rect x="232.25" y="336.80" width="2.95" height="17.97" fill="#f07290"/>
<rect x="232.25" y="336.80" width="1.15" height="18.37" fill="#78001e"/>
<rect x="235.20" y="336.80" width="2.95" height="13.90" fill="#f07290"/>
<rect x="235.20" y="336.80" width="1.15" height="14.30" fill="#78001e"/>
<rect x="238.15" y="336.80" width="2.95" height="11.86" fill="#f07290"/>
<rect x="238.15" y="336.80" width="1.15" height="12.26" fill="#78001e"/>
<rect x="241.10" y="336.80" width="2.95" height="9.49" fill="#f07290"/>
<rect x="241.10" y="336.80" width="1.15" height="9.89" fill="#78001e"/>
<rect x="244.05" y="336.80" width="2.95" height="7.46" fill="#f07290"/>
<rect x="244.05" y="336.80" width="1.15" height="7.86" fill="#78001e"/>
<rect x="247.00" y="336.80" width="2.95" height="4.07" fill="#f07290"/>
<rect x="247.00" y="336.80" width="1.15" height="4.47" fill="#78001e"/>
<rect x="249.95" y="336.80" width="2.95" height="3.73" fill="#f07290"/>
<rect x="249.95" y="336.80" width="1.15" height="4.13" fill="#78001e"/>
<rect x="258.90" y="335.78" width="2.0" height="1.02" fill="#3e5c9c" stroke="#1e3266" stroke-width="0.45"/>
<rect x="261.90" y="333.75" width="2.0" height="3.05" fill="#3e5c9c" stroke="#1e3266" stroke-width="0.45"/>
<rect x="264.90" y="332.39" width="2.0" height="4.41" fill="#3e5c9c" stroke="#1e3266" stroke-width="0.45"/>
<rect x="267.90" y="332.73" width="2.0" height="4.07" fill="#3e5c9c" stroke="#1e3266" stroke-width="0.45"/>
<rect x="270.90" y="332.05" width="2.0" height="4.75" fill="#3e5c9c" stroke="#1e3266" stroke-width="0.45"/>
<rect x="273.90" y="331.04" width="2.0" height="5.76" fill="#3e5c9c" stroke="#1e3266" stroke-width="0.45"/>
<rect x="276.90" y="329.00" width="2.0" height="7.80" fill="#3e5c9c" stroke="#1e3266" stroke-width="0.45"/>
<rect x="279.90" y="329.00" width="2.0" height="7.80" fill="#3e5c9c" stroke="#1e3266" stroke-width="0.45"/>
<rect x="282.90" y="327.31" width="2.0" height="9.49" fill="#3e5c9c" stroke="#1e3266" stroke-width="0.45"/>
<rect x="285.90" y="323.24" width="2.0" height="13.56" fill="#3e5c9c" stroke="#1e3266" stroke-width="0.45"/>
<rect x="288.90" y="320.53" width="2.0" height="16.27" fill="#3e5c9c" stroke="#1e3266" stroke-width="0.45"/>
<rect x="291.90" y="318.83" width="2.0" height="17.97" fill="#3e5c9c" stroke="#1e3266" stroke-width="0.45"/>
<rect x="294.90" y="316.80" width="2.0" height="20.00" fill="#3e5c9c" stroke="#1e3266" stroke-width="0.45"/>
<rect x="297.90" y="316.80" width="2.0" height="20.00" fill="#3e5c9c" stroke="#1e3266" stroke-width="0.45"/>
<rect x="300.90" y="315.10" width="2.0" height="21.70" fill="#3e5c9c" stroke="#1e3266" stroke-width="0.45"/>
<rect x="303.90" y="311.04" width="2.0" height="25.76" fill="#3e5c9c" stroke="#1e3266" stroke-width="0.45"/>
<rect x="306.90" y="310.36" width="2.0" height="26.44" fill="#3e5c9c" stroke="#1e3266" stroke-width="0.45"/>
<rect x="309.90" y="307.99" width="2.0" height="28.81" fill="#3e5c9c" stroke="#1e3266" stroke-width="0.45"/>
<rect x="312.90" y="303.92" width="2.0" height="32.88" fill="#3e5c9c" stroke="#1e3266" stroke-width="0.45"/>
<rect x="315.90" y="303.24" width="2.0" height="33.56" fill="#3e5c9c" stroke="#1e3266" stroke-width="0.45"/>
<rect x="321.50" y="295.78" width="2.0" height="41.02" fill="#96cc6c" stroke="#5e9a3c" stroke-width="0.45"/>
<rect x="324.53" y="293.75" width="2.0" height="43.05" fill="#96cc6c" stroke="#5e9a3c" stroke-width="0.45"/>
<rect x="327.56" y="292.73" width="2.0" height="44.07" fill="#96cc6c" stroke="#5e9a3c" stroke-width="0.45"/>
<rect x="330.59" y="292.73" width="2.0" height="44.07" fill="#96cc6c" stroke="#5e9a3c" stroke-width="0.45"/>
<rect x="333.62" y="291.04" width="2.0" height="45.77" fill="#96cc6c" stroke="#5e9a3c" stroke-width="0.45"/>
<rect x="336.65" y="278.15" width="2.0" height="58.65" fill="#96cc6c" stroke="#5e9a3c" stroke-width="0.45"/>
<rect x="339.68" y="272.05" width="2.0" height="64.75" fill="#96cc6c" stroke="#5e9a3c" stroke-width="0.45"/>
<rect x="342.71" y="260.19" width="2.0" height="76.61" fill="#96cc6c" stroke="#5e9a3c" stroke-width="0.45"/>
<rect x="345.74" y="259.17" width="2.0" height="77.63" fill="#96cc6c" stroke="#5e9a3c" stroke-width="0.45"/>
<rect x="348.77" y="251.37" width="2.0" height="85.43" fill="#96cc6c" stroke="#5e9a3c" stroke-width="0.45"/>
<rect x="351.80" y="244.93" width="2.0" height="91.87" fill="#96cc6c" stroke="#5e9a3c" stroke-width="0.45"/>
<line x1="223.2" y1="302.7" x2="354" y2="302.7" stroke="#222" stroke-width="0.9" stroke-dasharray="1.2,0.7"/>
<line x1="223.2" y1="241.6" x2="223.2" y2="357" stroke="#111" stroke-width="1.3"/>
<line x1="223.2" y1="336.8" x2="354.4" y2="336.8" stroke="#111" stroke-width="1.1"/>
<line x1="223" y1="362.2" x2="254.8" y2="362.2" stroke="#b81840" stroke-width="1.5"/>
<line x1="261.5" y1="362.2" x2="319" y2="362.2" stroke="#1e2e5e" stroke-width="1.4" stroke-dasharray="4.4,4.28"/>
<line x1="323.6" y1="362.2" x2="354.5" y2="362.2" stroke="#8aa870" stroke-width="1.2" stroke-dasharray="3.1,3.5"/>
<text x="238.80" y="370.40" font-size="6.6" text-anchor="middle" fill="#222" stroke="#222" stroke-width="0.22">low</text>
<text x="288.60" y="370.40" font-size="6.6" text-anchor="middle" fill="#222" stroke="#222" stroke-width="0.22">intermediate</text>
<text x="337.60" y="370.30" font-size="6.6" text-anchor="middle" fill="#222" stroke="#222" stroke-width="0.22">high</text>
<text x="361.60" y="228.00" font-size="11" text-anchor="start" fill="#1e1e1e" font-weight="bold" fill="#111">D</text>
<line x1="389.3" y1="337.10" x2="392.6" y2="337.10" stroke="#111" stroke-width="1"/>
<text x="386.00" y="339.60" font-size="7" text-anchor="end" fill="#222" stroke="#222" stroke-width="0.22">0</text>
<line x1="389.3" y1="319.16" x2="392.6" y2="319.16" stroke="#111" stroke-width="1"/>
<text x="386.00" y="321.66" font-size="7" text-anchor="end" fill="#222" stroke="#222" stroke-width="0.22">20</text>
<line x1="389.3" y1="301.22" x2="392.6" y2="301.22" stroke="#111" stroke-width="1"/>
<text x="386.00" y="303.72" font-size="7" text-anchor="end" fill="#222" stroke="#222" stroke-width="0.22">40</text>
<line x1="389.3" y1="283.28" x2="392.6" y2="283.28" stroke="#111" stroke-width="1"/>
<text x="386.00" y="285.78" font-size="7" text-anchor="end" fill="#222" stroke="#222" stroke-width="0.22">60</text>
<line x1="389.3" y1="265.34" x2="392.6" y2="265.34" stroke="#111" stroke-width="1"/>
<text x="386.00" y="267.84" font-size="7" text-anchor="end" fill="#222" stroke="#222" stroke-width="0.22">80</text>
<line x1="389.3" y1="247.40" x2="392.6" y2="247.40" stroke="#111" stroke-width="1"/>
<text x="386.00" y="249.90" font-size="7" text-anchor="end" fill="#222" stroke="#222" stroke-width="0.22">100</text>
<line x1="392.60" y1="337.1" x2="392.60" y2="339.90000000000003" stroke="#111" stroke-width="1"/>
<text x="392.60" y="349.50" font-size="7.1" text-anchor="middle" fill="#222" stroke="#222" stroke-width="0.22">0</text>
<line x1="407.24" y1="337.1" x2="407.24" y2="339.90000000000003" stroke="#111" stroke-width="1"/>
<text x="407.24" y="349.50" font-size="7.1" text-anchor="middle" fill="#222" stroke="#222" stroke-width="0.22">1</text>
<line x1="421.88" y1="337.1" x2="421.88" y2="339.90000000000003" stroke="#111" stroke-width="1"/>
<text x="421.88" y="349.50" font-size="7.1" text-anchor="middle" fill="#222" stroke="#222" stroke-width="0.22">2</text>
<line x1="436.52" y1="337.1" x2="436.52" y2="339.90000000000003" stroke="#111" stroke-width="1"/>
<text x="436.52" y="349.50" font-size="7.1" text-anchor="middle" fill="#222" stroke="#222" stroke-width="0.22">3</text>
<line x1="451.16" y1="337.1" x2="451.16" y2="339.90000000000003" stroke="#111" stroke-width="1"/>
<text x="451.16" y="349.50" font-size="7.1" text-anchor="middle" fill="#222" stroke="#222" stroke-width="0.22">4</text>
<line x1="465.80" y1="337.1" x2="465.80" y2="339.90000000000003" stroke="#111" stroke-width="1"/>
<text x="465.80" y="349.50" font-size="7.1" text-anchor="middle" fill="#222" stroke="#222" stroke-width="0.22">5</text>
<line x1="480.44" y1="337.1" x2="480.44" y2="339.90000000000003" stroke="#111" stroke-width="1"/>
<text x="480.44" y="349.50" font-size="7.1" text-anchor="middle" fill="#222" stroke="#222" stroke-width="0.22">6</text>
<line x1="495.08" y1="337.1" x2="495.08" y2="339.90000000000003" stroke="#111" stroke-width="1"/>
<text x="495.08" y="349.50" font-size="7.1" text-anchor="middle" fill="#222" stroke="#222" stroke-width="0.22">7</text>
<line x1="509.72" y1="337.1" x2="509.72" y2="339.90000000000003" stroke="#111" stroke-width="1"/>
<text x="509.72" y="349.50" font-size="7.1" text-anchor="middle" fill="#222" stroke="#222" stroke-width="0.22">8</text>
<text transform="translate(369.80,290.20) rotate(-90)" font-size="9.2" text-anchor="middle" textLength="76.4" lengthAdjust="spacingAndGlyphs" fill="#222" stroke="#222" stroke-width="0.22">Overall survival (%)</text>
<text x="452.95" y="363.80" font-size="9.0" text-anchor="middle" textLength="97.2" lengthAdjust="spacingAndGlyphs" fill="#222" stroke="#222" stroke-width="0.22">Time from biopsy (years)</text>
<text x="397.20" y="330.10" font-size="7.3" text-anchor="start" fill="#222" stroke="#222" stroke-width="0.22"><tspan font-style="italic">p</tspan>&lt;0.0032</text>
<path d="M392.60,247.40 H393.19 V258.16 H394.80 V265.34 H398.75 V274.31 H403.14 V282.83 H420.42 V294.04 H428.76 V304.81 H490.83 V337.10" fill="none" stroke="#6a9a48" stroke-width="1.3" stroke-dasharray="3.7,2.9"/>
<path d="M392.60,247.40 H406.51 V252.78 H418.95 V257.72 H425.54 V272.52 H448.67 V286.42 H469.46 V311.98 H482.93 V337.10" fill="none" stroke="#161c40" stroke-width="1.3" stroke-dasharray="4.2,4.2"/>
<path d="M392.60,247.40 H451.16 V260.68 H500.94 V298.80 H510.01" fill="none" stroke="#960c2a" stroke-width="1.7"/>
<line x1="396.41" y1="247.40" x2="396.41" y2="244.10" stroke="#3a0a16" stroke-width="1.2"/>
<line x1="400.07" y1="247.40" x2="400.07" y2="244.10" stroke="#3a0a16" stroke-width="1.2"/>
<line x1="406.36" y1="247.40" x2="406.36" y2="244.10" stroke="#3a0a16" stroke-width="1.2"/>
<line x1="432.71" y1="247.40" x2="432.71" y2="244.10" stroke="#3a0a16" stroke-width="1.2"/>
<line x1="438.72" y1="247.40" x2="438.72" y2="244.10" stroke="#3a0a16" stroke-width="1.2"/>
<line x1="440.91" y1="247.40" x2="440.91" y2="244.10" stroke="#3a0a16" stroke-width="1.2"/>
<line x1="450.14" y1="247.40" x2="450.14" y2="244.10" stroke="#3a0a16" stroke-width="1.2"/>
<line x1="455.55" y1="260.68" x2="455.55" y2="257.38" stroke="#3a0a16" stroke-width="1.2"/>
<line x1="486.30" y1="260.68" x2="486.30" y2="257.38" stroke="#3a0a16" stroke-width="1.2"/>
<line x1="500.35" y1="260.68" x2="500.35" y2="257.38" stroke="#3a0a16" stroke-width="1.2"/>
<line x1="509.28" y1="298.80" x2="509.28" y2="295.50" stroke="#3a0a16" stroke-width="1.2"/>
<line x1="407.24" y1="252.78" x2="407.24" y2="249.48" stroke="#161c40" stroke-width="1.2"/>
<line x1="414.56" y1="252.78" x2="414.56" y2="249.48" stroke="#161c40" stroke-width="1.2"/>
<line x1="427.74" y1="272.52" x2="427.74" y2="269.22" stroke="#161c40" stroke-width="1.2"/>
<line x1="430.66" y1="272.52" x2="430.66" y2="269.22" stroke="#161c40" stroke-width="1.2"/>
<line x1="446.77" y1="272.52" x2="446.77" y2="269.22" stroke="#161c40" stroke-width="1.2"/>
<line x1="462.14" y1="286.42" x2="462.14" y2="283.12" stroke="#161c40" stroke-width="1.2"/>
<line x1="418.95" y1="282.83" x2="418.95" y2="279.53" stroke="#6a9a48" stroke-width="1.2"/>
<line x1="442.52" y1="304.81" x2="442.52" y2="301.51" stroke="#6a9a48" stroke-width="1.2"/>
<line x1="446.04" y1="304.81" x2="446.04" y2="301.51" stroke="#6a9a48" stroke-width="1.2"/>
<line x1="392.6" y1="243" x2="392.6" y2="337.6" stroke="#111" stroke-width="1.3"/>
<line x1="392.0" y1="337.1" x2="512.8" y2="337.1" stroke="#111" stroke-width="1.1"/>
<line x1="460.2" y1="233.8" x2="472.3" y2="233.8" stroke="#960c2a" stroke-width="1.3"/>
<text x="475.70" y="235.80" font-size="7.5" text-anchor="start" fill="#222" stroke="#222" stroke-width="0.22">basal low</text>
<line x1="460.2" y1="242.7" x2="472.3" y2="242.7" stroke="#161c40" stroke-width="1.2" stroke-dasharray="3.6,4.6"/>
<text x="475.70" y="244.40" font-size="7.5" text-anchor="start" fill="#222" stroke="#222" stroke-width="0.22">basal int</text>
<line x1="462.5" y1="250.9" x2="472.3" y2="250.9" stroke="#6a9a48" stroke-width="1.1" stroke-dasharray="3,3.4"/>
<text x="475.70" y="253.00" font-size="7.5" text-anchor="start" fill="#222" stroke="#222" stroke-width="0.22">basal high</text>
<rect x="0.75" y="0.75" width="518.5" height="398.5" fill="none" stroke="#000" stroke-width="1.5"/>
</g></svg></body></html>
